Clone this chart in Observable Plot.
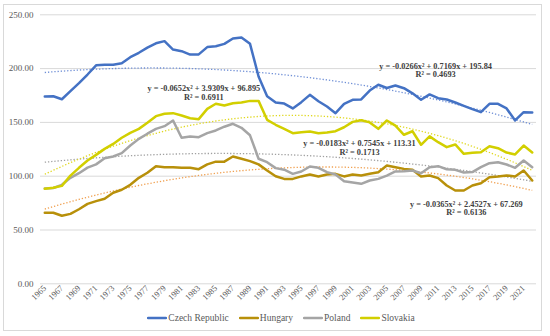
<!DOCTYPE html>
<html>
<head>
<meta charset="utf-8">
<script src="https://cdn.jsdelivr.net/npm/d3@7"></script>
<script src="https://cdn.jsdelivr.net/npm/@observablehq/plot@0.6"></script>
<style>
  html, body { margin: 0; padding: 0; background: #fff; }
  #wrap { position: relative; width: 550px; height: 336px; overflow: hidden; font-family: "Liberation Serif", serif; }
  #frame { position: absolute; left: 3px; top: 4px; width: 539px; height: 327px; border: 1px solid #d9d9d9; box-sizing: border-box; }
  #chart { position: absolute; left: 0; top: 0; }
  #legend { position: absolute; top: 313px; left: 0; width: 562px; display: flex; justify-content: center; gap: 10px; font-size: 9.5px; color: #595959; }
  .item { display: flex; align-items: center; gap: 1px; }
</style>
</head>
<body>
<div id="wrap">
  <div id="frame"></div>
  <div id="chart"></div>
  <div id="legend"></div>
</div>
<script>
const years = d3.range(1965, 2023);
const seriesNames = ["Czech Republic", "Hungary", "Poland", "Slovakia"];
const seriesColors = ["#4472c4", "#b8900a", "#a5a5a5", "#d2cf00"];
const trendColors = ["#6f8fd6", "#f0a050", "#a0a0a0", "#e0d820"];

const czech = [174,174.3,171.5,179,186.5,194.5,203,203.5,203.6,205,210.6,214.7,219.5,223.5,225.5,217.7,216.2,213,213.2,220,220.8,223,228,229,223,192.7,174.3,168.5,167.5,163,168.8,175.6,169.7,164.8,158.6,167.3,171,171.3,179.6,185,182,184.3,181.8,177,171,176,172.5,171.3,168.5,165.4,162.3,159.5,167.3,167.3,163,151.8,159.5,159.3];
const hungary = [66,66,63.2,65,69.3,74.3,76.8,79,84.6,87.4,92,98.5,103.2,109.3,108.4,108.4,107.8,107.8,106.5,111,113.5,113.5,118.3,116.2,114,111,105.3,100,97.5,97.5,99.8,101.6,99.8,101.6,102.2,99.8,101.6,100.7,102.2,103.7,109.9,108.4,106.8,105.9,99.8,100.7,98.2,91.4,86.7,86.7,91.4,93.5,99.1,99.8,100.7,99.8,105.3,96];
const poland = [88.6,89,92,98.5,102.8,108,111,116.7,118.3,121.4,128.5,134.7,139.5,144,146.5,151.8,135.7,136.9,136.3,140,142.5,146,148.7,145,138,116.2,113,107.5,106,102.2,104.4,109,107.8,103.8,101.6,95.4,94.2,92.9,96,97.5,100.6,104.4,104.7,105.3,102.8,108.4,109.3,106.5,105.9,103.5,103.8,108.4,112.1,113,110.9,107.8,114.6,108.4];
const slovakia = [88.3,89.2,91,100.6,107.8,114.6,119.8,125.4,130,135.7,140.3,144,149.6,155.8,158,158.6,156.4,153.9,153,162.6,167.3,165.7,167.8,168.5,170,170,152.4,147.8,144,140,140.9,141.5,140,140.6,141.8,145.5,150.5,152,150,144,151.8,147,138.5,141.8,129.2,137,131.6,127,129.5,120.8,121.7,122.3,127.9,126,122,120.2,128.5,122];

const yTicks = [0, 50, 100, 150, 200, 250];
const xTicks = d3.range(1965, 2022, 2);

// Trendline labels (as shown on the chart) and where they sit (year, value)
const labelTexts = [
  "y = -0.0266x² + 0.7169x + 195.84\nR² = 0.4693",
  "y = -0.0652x² + 3.9309x + 96.895\nR² = 0.6911",
  "y = -0.0183x² + 0.7545x + 113.31\nR² = 0.1713",
  "y = -0.0365x² + 2.4527x + 67.269\nR² = 0.6136"
];
const labelYears = [2010.7, 1983.6, 2001.8, 2014.3];
const labelValues = [198.4, 177.7, 126.2, 70.2];

const allSeries = [czech, hungary, poland, slovakia];

// long-format table
const rows = [];
allSeries.forEach((vals, s) => vals.forEach((v, i) => rows.push({year: years[i], value: v, series: seriesNames[s]})));

// Least-squares quadratic fit (x = 1..n), like a spreadsheet polynomial trendline
function quadFit(vals) {
  let S = [0,0,0,0,0], T = [0,0,0];
  vals.forEach((y, i) => {
    const x = i + 1;
    for (let k = 0; k < 5; k++) S[k] += Math.pow(x, k);
    for (let k = 0; k < 3; k++) T[k] += y * Math.pow(x, k);
  });
  const A = [[S[0],S[1],S[2],T[0]],[S[1],S[2],S[3],T[1]],[S[2],S[3],S[4],T[2]]];
  for (let c = 0; c < 3; c++) {
    for (let r = c + 1; r < 3; r++) {
      const f = A[r][c] / A[c][c];
      for (let k = c; k < 4; k++) A[r][k] -= f * A[c][k];
    }
  }
  const b = [0,0,0];
  for (let r = 2; r >= 0; r--) {
    let s = A[r][3];
    for (let k = r + 1; k < 3; k++) s -= A[r][k] * b[k];
    b[r] = s / A[r][r];
  }
  return vals.map((_, i) => { const x = i + 1; return b[0] + b[1]*x + b[2]*x*x; });
}
const trendRows = [];
allSeries.forEach((vals, s) => quadFit(vals).forEach((v, i) => trendRows.push({year: years[i], value: v, series: seriesNames[s]})));

const labelRows = labelTexts.map((t, i) => ({text: t, year: labelYears[i], value: labelValues[i]}));

const chart = Plot.plot({
  width: 550,
  height: 306,
  marginLeft: 40,
  marginRight: 14,
  marginTop: 14.3,
  marginBottom: 22.7,
  x: {type: "linear", domain: [1964.5, 2022.5]},
  y: {domain: [0, 250]},
  style: {fontFamily: "Liberation Serif, serif", fontSize: "8.5px", color: "#595959", background: "transparent", overflow: "visible"},
  marks: [
    Plot.gridY(yTicks, {stroke: "#d9d9d9", strokeOpacity: 1, strokeWidth: 1}),
    Plot.axisY(yTicks, {tickSize: 0, tickPadding: 7, tickFormat: d => d.toFixed(2), label: null, fontSize: 9}),
    Plot.axisX(xTicks, {tickSize: 0, tickPadding: 3, tickRotate: -45, tickFormat: d => String(d), label: null, fontSize: 8.5}),
    ...seriesNames.map((name, s) => Plot.line(trendRows.filter(r => r.series === name), {
      x: "year", y: "value", stroke: trendColors[s], strokeWidth: 1.3, strokeDasharray: "1.3,1.9", strokeLinecap: "butt"
    })),
    ...seriesNames.map((name, s) => Plot.line(rows.filter(r => r.series === name), {
      x: "year", y: "value", stroke: seriesColors[s], strokeWidth: 2.5, strokeLinejoin: "round", strokeLinecap: "round"
    })),
    Plot.text(labelRows, {x: "year", y: "value", text: "text", fill: "#404040", fontSize: 8.3, fontWeight: "bold", lineHeight: 1.05, textAnchor: "middle"})
  ]
});
document.getElementById("chart").appendChild(chart);

const legend = document.getElementById("legend");
seriesNames.forEach((name, s) => {
  const item = document.createElement("div");
  item.className = "item";
  item.innerHTML = `<svg width="20" height="6"><line x1="1" x2="19" y1="3" y2="3" stroke="${seriesColors[s]}" stroke-width="2.5" stroke-linecap="round"/></svg><span>${name}</span>`;
  legend.appendChild(item);
});
</script>
</body>
</html>
